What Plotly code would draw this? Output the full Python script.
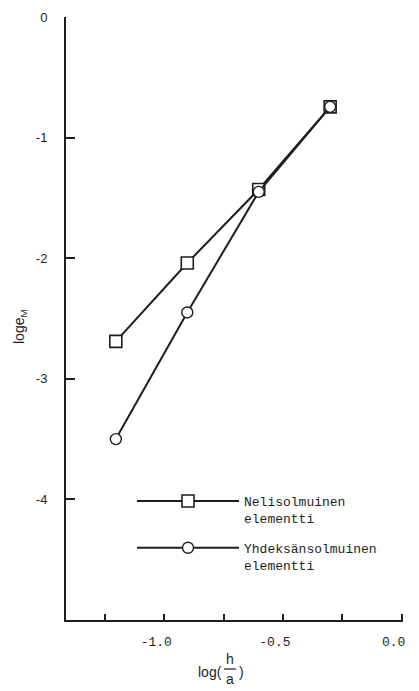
import plotly.graph_objects as go

# Data
log_ha = [-1.204, -0.903, -0.602, -0.301]
nelisolmuinen = [-2.69, -2.04, -1.43, -0.745]
yhdeksansolmuinen = [-3.50, -2.45, -1.45, -0.745]

x_tickvals = [-1.0, -0.5, 0.0]
x_ticktext = ["-1.0", "-0.5", "0.0"]
x_minor_tickvals = [-1.25, -0.75, -0.25]
y_tickvals = [0, -1, -2, -3, -4]
y_ticktext = ["0", "-1", "-2", "-3", "-4"]

INK = "#1e1e1e"
MONO = "Liberation Mono, DejaVu Sans Mono, monospace"
SANS = "Liberation Sans, Arial, sans-serif"

fig = go.Figure()
fig.add_trace(go.Scatter(
    x=log_ha, y=nelisolmuinen, mode="lines+markers",
    name="Nelisolmuinen<br>elementti", legendgroup="neli",
    line=dict(color=INK, width=2),
    marker=dict(symbol="square", size=12, color="white",
                line=dict(color=INK, width=1.6)),
))
fig.add_trace(go.Scatter(
    x=log_ha, y=yhdeksansolmuinen, mode="lines+markers",
    name="Yhdeksänsolmuinen<br>elementti", legendgroup="yhdeksan",
    line=dict(color=INK, width=2),
    marker=dict(symbol="circle", size=11, color="white",
                line=dict(color=INK, width=1.4)),
))

# page body has an 8 px margin: work in window pixels, convert to figure pixels
OFF = 8
W, H = 419 - OFF, 691 - OFF
PL, PR, PT, PB = 66, 403, 17, 620          # plot area in window pixels
L, R, T, B = PL - OFF, W - (PR - OFF), PT - OFF, H - (PB - OFF)
pw, ph = W - L - R, H - T - B

def px(xp):
    return (xp - OFF - L) / pw

def py(yp):
    return (H - B - (yp - OFF)) / ph

fig.update_layout(
    width=W, height=H,
    margin=dict(l=L, r=R, t=T, b=B, autoexpand=False),
    paper_bgcolor="white", plot_bgcolor="white",
    showlegend=True,
    legend=dict(
        x=px(132), y=py(486), xanchor="left", yanchor="top",
        font=dict(family=MONO, size=13, color=INK),
        itemwidth=102, valign="top", tracegroupgap=10,
        bgcolor="rgba(0,0,0,0)",
    ),
    xaxis=dict(
        range=[-1.414, 0.006], tickvals=x_tickvals, ticktext=x_ticktext,
        showline=True, linecolor=INK, linewidth=2,
        ticks="inside", ticklen=6, tickwidth=1.5, tickcolor=INK,
        minor=dict(tickvals=x_minor_tickvals, ticks="inside", ticklen=6,
                   tickwidth=1.5, tickcolor=INK, showgrid=False),
        showgrid=False, zeroline=False, automargin=False,
        tickfont=dict(family=MONO, size=13, color=INK),
        ticklabelshift=-8, ticklabelstandoff=8,
    ),
    yaxis=dict(
        range=[-5, 0], tickvals=y_tickvals, ticktext=y_ticktext,
        showline=True, linecolor=INK, linewidth=2,
        ticks="inside", ticklen=9, tickwidth=1.5, tickcolor=INK,
        showgrid=False, zeroline=False, automargin=False,
        tickfont=dict(family=SANS, size=13, color=INK),
        ticklabelstandoff=14,
    ),
)

ann_font = dict(family=SANS, size=14, color=INK)
annotations = [
    dict(x=px(20), y=py(327), xref="paper", yref="paper",
         text="loge<sub>M</sub>", textangle=-90, showarrow=False,
         font=ann_font, xanchor="center", yanchor="middle"),
    dict(x=px(210), y=py(672), xref="paper", yref="paper",
         text="log(", showarrow=False, font=ann_font,
         xanchor="center", yanchor="middle"),
    dict(x=px(230), y=py(659), xref="paper", yref="paper",
         text="h", showarrow=False, font=ann_font,
         xanchor="center", yanchor="middle"),
    dict(x=px(230), y=py(679), xref="paper", yref="paper",
         text="a", showarrow=False, font=ann_font,
         xanchor="center", yanchor="middle"),
    dict(x=px(241), y=py(672), xref="paper", yref="paper",
         text=")", showarrow=False, font=ann_font,
         xanchor="center", yanchor="middle"),
]
fig.update_layout(annotations=annotations)
fig.add_shape(type="line", xref="paper", yref="paper",
              x0=px(224), x1=px(236), y0=py(669), y1=py(669),
              line=dict(color=INK, width=1.2))

fig.write_html("out.html")
